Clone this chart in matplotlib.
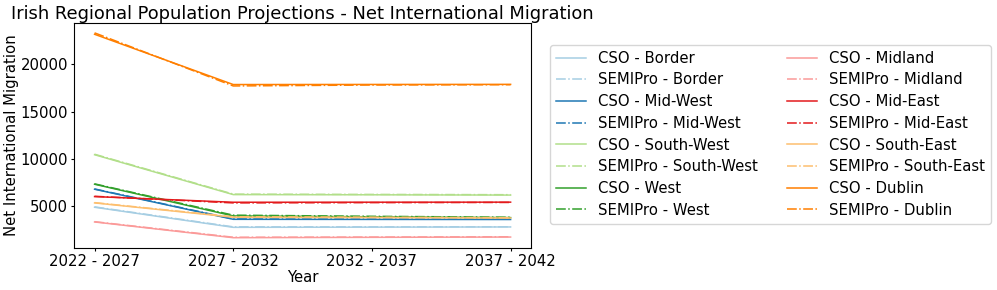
import matplotlib.pyplot as plt

periods = ['2022 - 2027', '2027 - 2032', '2032 - 2037', '2037 - 2042']
regions = ['Border', 'Mid-West', 'South-West', 'West',
           'Midland', 'Mid-East', 'South-East', 'Dublin']

# net international migration per period
cso = {
    'Border':     [4860, 2730, 2750, 2770],
    'Mid-West':   [6770, 3580, 3570, 3560],
    'South-West': [10430, 6200, 6180, 6150],
    'West':       [7300, 3940, 3850, 3760],
    'Midland':    [3300, 1630, 1670, 1700],
    'Mid-East':   [5990, 5390, 5395, 5400],
    'South-East': [5320, 3800, 3760, 3720],
    'Dublin':     [23200, 17870, 17880, 17890],
}
semipro = {
    'Border':     [4900, 2780, 2780, 2790],
    'Mid-West':   [6800, 3620, 3600, 3590],
    'South-West': [10480, 6250, 6220, 6190],
    'West':       [7340, 4020, 3900, 3800],
    'Midland':    [3330, 1680, 1700, 1730],
    'Mid-East':   [6020, 5320, 5350, 5370],
    'South-East': [5350, 3850, 3800, 3750],
    'Dublin':     [23350, 17720, 17820, 17850],
}

colors = plt.cm.Paired.colors
fs = 10.7

fig, ax = plt.subplots(figsize=(9.97, 2.90), dpi=100)
fig.subplots_adjust(left=0.074, right=0.533, top=0.922, bottom=0.145)

for i, r in enumerate(regions):
    c = colors[i]
    ax.plot(periods, cso[r], color=c, lw=1.1, label='CSO - ' + r)
    ax.plot(periods, semipro[r], color=c, lw=1.1, ls='-.', label='SEMIPro - ' + r)

ax.set_title('Irish Regional Population Projections - Net International Migration',
             fontsize=fs * 1.2, pad=2)
ax.set_xlabel('Year', fontsize=fs, labelpad=1)
ax.set_ylabel('Net International Migration', fontsize=fs, labelpad=1)
ax.tick_params(labelsize=fs, length=2, pad=2)
ax.legend(ncol=2, fontsize=fs, loc='center left', bbox_to_anchor=(1.025, 0.505),
          labelspacing=0.45)

plt.savefig('out.png', dpi=100)
